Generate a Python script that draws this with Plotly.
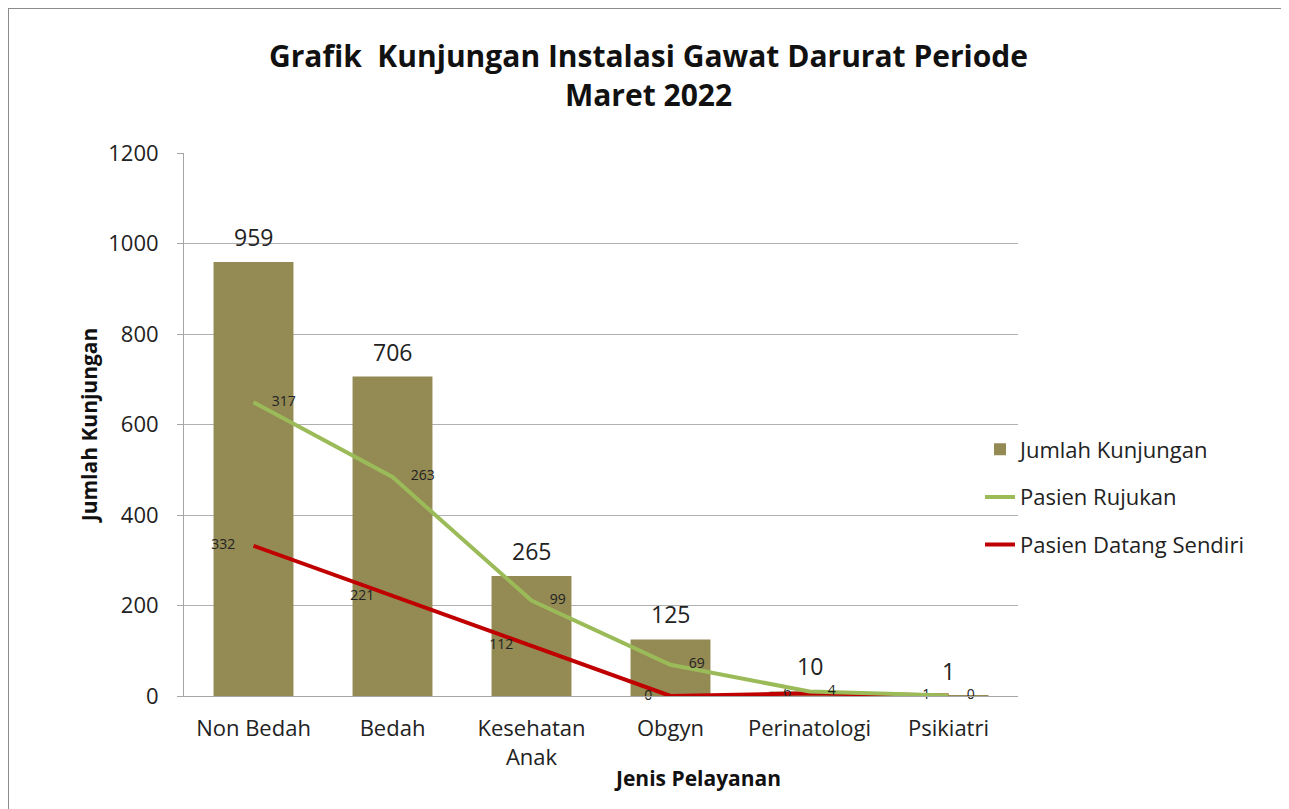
import plotly.graph_objects as go

categories = ["Non Bedah", "Bedah", "Kesehatan<br>Anak", "Obgyn", "Perinatologi", "Psikiatri"]
jumlah_kunjungan = [959, 706, 265, 125, 10, 1]
pasien_rujukan = [317, 263, 99, 69, 4, 0]
pasien_datang_sendiri = [332, 221, 112, 0, 6, 1]
y_ticks = [0, 200, 400, 600, 800, 1000, 1200]

FONT = "Open Sans, Noto Sans, sans-serif"
PAD = "\u00a0" * 5

W, H = 1281, 801
L, R, T, B = 176, 271, 145, 113
PW, PH = W - L - R, H - T - B

fig = go.Figure()
fig.add_trace(go.Bar(
    x=categories, y=jumlah_kunjungan, name="Jumlah Kunjungan",
    marker=dict(color="#948A54", line=dict(width=0)),
    legendrank=1, legendgroup="a",
))
fig.add_trace(go.Scatter(
    x=categories, y=pasien_datang_sendiri, name="Pasien Datang Sendiri",
    mode="lines+text", stackgroup="s", fill="none",
    line=dict(color="#C00000", width=4),
    text=[str(v) + PAD for v in pasien_datang_sendiri], textposition="middle left",
    textfont=dict(size=14, color="#222222", family=FONT),
    cliponaxis=False, legendrank=3, legendgroup="c",
))
fig.add_trace(go.Scatter(
    x=categories, y=pasien_rujukan, name="Pasien Rujukan",
    mode="lines+text", stackgroup="s", fill="none",
    line=dict(color="#9BBB59", width=4),
    text=[PAD + str(v) for v in pasien_rujukan], textposition="middle right",
    textfont=dict(size=14, color="#222222", family=FONT),
    cliponaxis=False, legendrank=2, legendgroup="b",
))

annotations = [
    dict(x=c, y=v, xref="x", yref="y", text=str(v), showarrow=False,
         yanchor="middle", yshift=25, font=dict(size=23, color="#222222", family=FONT))
    for c, v in zip(categories, jumlah_kunjungan)
]
annotations.append(dict(
    x=(689 - L) / PW, y=-(770 - (T + PH)) / PH, xref="paper", yref="paper",
    xanchor="center", yanchor="middle",
    text="<b>Jenis Pelayanan</b>", showarrow=False,
    font=dict(size=21, family=FONT, color="#111111"),
))

fx0 = -L / PW
fy0 = (PH + T) / PH

fig.update_layout(
    width=W, height=H,
    margin=dict(l=L, r=R, t=T, b=B),
    paper_bgcolor="white", plot_bgcolor="white",
    font=dict(family=FONT, color="#222222"),
    bargap=0.425,
    title=dict(
        text="<b>Grafik  Kunjungan Instalasi Gawat Darurat Periode<br>Maret 2022</b>",
        x=0.5, xanchor="center", y=1 - 59 / H, yanchor="middle",
        font=dict(size=30, color="#111111", family=FONT),
    ),
    legend=dict(
        x=(972 - L) / PW, xanchor="left", y=(PH + T - 489) / PH, yanchor="middle",
        font=dict(size=22, family=FONT, color="#222222"),
        tracegroupgap=16, itemwidth=30,
        bgcolor="rgba(0,0,0,0)",
    ),
    xaxis=dict(
        showline=True, linecolor="#A6A6A6", linewidth=1,
        tickfont=dict(size=22, family=FONT, color="#222222"),
        ticklabelstandoff=13,
        ticks="", showgrid=False,
    ),
    yaxis=dict(
        range=[0, 1200], tickvals=y_ticks,
        showline=True, linecolor="#A6A6A6", linewidth=1,
        ticks="outside", ticklen=6, tickcolor="#A6A6A6", ticklabelstandoff=14,
        gridcolor="#B0B0B0", gridwidth=1,
        tickfont=dict(size=22, family=FONT, color="#222222"),
        title=dict(text="<b>Jumlah Kunjungan</b>", font=dict(size=21, family=FONT, color="#111111"), standoff=4),
        zeroline=False,
    ),
    annotations=annotations,
    shapes=[
        dict(type="line", xref="paper", yref="paper", x0=fx0, x1=1.4, y0=fy0, y1=fy0,
             line=dict(color="#8C8C8C", width=2)),
        dict(type="line", xref="paper", yref="paper", x0=fx0, x1=fx0, y0=fy0, y1=-0.3,
             line=dict(color="#8C8C8C", width=2)),
    ],
)

fig.write_html("out.html")
